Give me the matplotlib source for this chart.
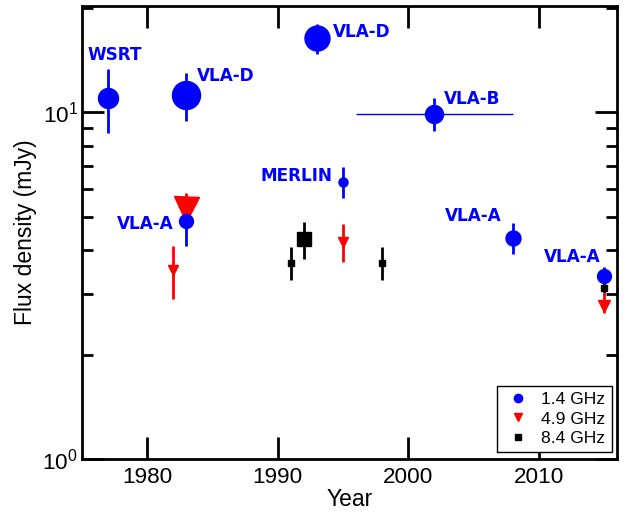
import numpy as np
import matplotlib
matplotlib.use("Agg")
import matplotlib.pyplot as plt
from matplotlib.ticker import LogLocator, NullFormatter, MultipleLocator

plt.rcParams['font.family'] = ['Liberation Sans', 'DejaVu Sans']

# 1.4 GHz
yr_14 = [1977, 1983, 1983, 1993, 1995, 2002, 2008, 2015]
flux_14 = [11.0, 11.2, 4.85, 16.3, 6.3, 9.9, 4.35, 3.38]
err_14 = [2.3, 1.8, 0.74, 1.6, 0.65, 1.1, 0.44, 0.2]
xerr_14 = [0, 0, 0, 0, 0, 6, 0, 0]
ms_14 = [14.4, 20.2, 10.0, 18.0, 6.5, 13.0, 10.8, 10.0]

# 4.9 GHz
yr_49 = [1982, 1983, 1995, 2015]
flux_49 = [3.5, 5.26, 4.23, 2.76]
err_lo_49 = [0.6, 0.57, 0.53, 0.13]
err_hi_49 = [0.6, 0.57, 0.53, 0.25]
ms_49 = [7.9, 18.0, 7.2, 8.0]

# 8.4 GHz
yr_84 = [1991, 1992, 1998, 2015]
flux_84 = [3.68, 4.3, 3.68, 3.12]
err_84 = [0.4, 0.53, 0.4, 0.1]
ms_84 = [5.0, 10.0, 4.6, 4.4]

labels = ['WSRT', 'VLA-D', 'VLA-A', 'VLA-D', 'MERLIN', 'VLA-B', 'VLA-A', 'VLA-A']
label_x = [1975.4, 1983.8, 1982.0, 1994.2, 1994.2, 2002.75, 2002.8, 2010.4]
label_y = [14.6, 12.7, 4.76, 17.0, 6.55, 10.88, 5.01, 3.83]
label_ha = ['left', 'left', 'right', 'left', 'right', 'left', 'left', 'left']

fig = plt.figure(figsize=(6.26, 5.13), dpi=100)
ax = fig.add_axes([0.131, 0.105, 0.8546, 0.883])

for x, y, lo, hi, m in zip(yr_49, flux_49, err_lo_49, err_hi_49, ms_49):
    ax.errorbar(x, y, yerr=[[lo], [hi]], fmt='v', color='red', ms=m, elinewidth=2, capsize=0)

for x, y, e, xe, m in zip(yr_14, flux_14, err_14, xerr_14, ms_14):
    ax.errorbar(x, y, yerr=e, fmt='o', color='blue', ms=m, elinewidth=2, capsize=0)
    if xe:
        ax.errorbar(x, y, xerr=xe, fmt='none', ecolor='blue', elinewidth=1, capsize=0)

for x, y, e, m in zip(yr_84, flux_84, err_84, ms_84):
    ax.errorbar(x, y, yerr=e, fmt='s', color='black', ms=m, elinewidth=2, capsize=0)

for t, x, y, ha in zip(labels, label_x, label_y, label_ha):
    ax.text(x, y, t, color='blue', fontsize=12.2, fontweight='bold',
            family='DejaVu Sans', ha=ha, va='center')

# legend proxies
ax.plot([], [], 'o', color='blue', ms=6, label='1.4 GHz')
ax.plot([], [], 'v', color='red', ms=6, label='4.9 GHz')
ax.plot([], [], 's', color='black', ms=4.5, label='8.4 GHz')
leg = ax.legend(loc='lower right', fontsize=12.6, fancybox=False, framealpha=1,
                edgecolor='black', handletextpad=0.5, borderpad=0.35,
                labelspacing=0.25, handlelength=1.7, borderaxespad=0,
                bbox_to_anchor=(0.99, 0.015))
leg.get_frame().set_linewidth(1)

ax.set_yscale('log')
ax.set_xlim(1975, 2016)
ax.set_ylim(1, 20.2)
ax.xaxis.set_major_locator(MultipleLocator(10))
ax.yaxis.set_major_locator(LogLocator(base=10))
ax.yaxis.set_minor_locator(LogLocator(base=10, subs=np.arange(2, 10)))
ax.yaxis.set_minor_formatter(NullFormatter())

ax.tick_params(which='both', direction='in', top=True, right=True, width=2, labelsize=16.2)
ax.tick_params(which='major', length=16)
ax.tick_params(which='minor', length=8)
ax.tick_params(axis='x', pad=6)
ax.tick_params(axis='y', pad=3)
for s in ax.spines.values():
    s.set_linewidth(2)

ax.set_xlabel('Year', fontsize=16.5, labelpad=0)
ax.set_ylabel('Flux density (mJy)', fontsize=16.5, labelpad=4)

fig.savefig('out.png', dpi=100)
